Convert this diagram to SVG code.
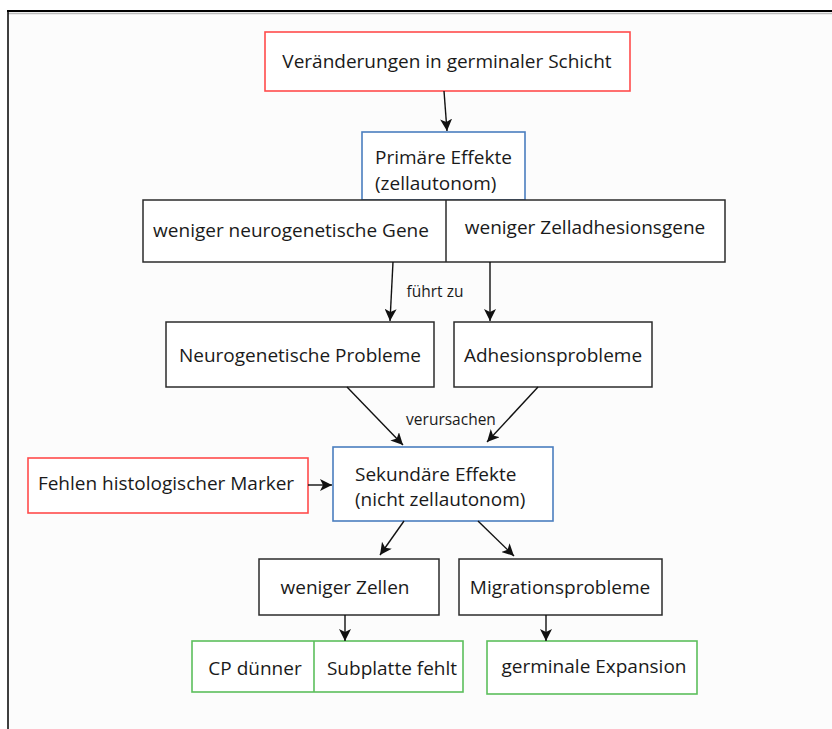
<svg xmlns="http://www.w3.org/2000/svg" width="832" height="729" viewBox="0 0 832 729">
  <style>
    .box { fill: #ffffff; stroke: #2b2b2b; stroke-width: 1.5; }
    .red { fill: #ffffff; stroke: #ff4b4b; stroke-width: 1.6; }
    .blue { fill: #ffffff; stroke: #4a7ebf; stroke-width: 1.6; }
    .green { fill: #ffffff; stroke: #5cbf5c; stroke-width: 1.6; }
    .lbl { font-family: "Open Sans", "Noto Sans", sans-serif; font-size: 19px; fill: #1a1a1a; }
    .mid { text-anchor: middle; }
    .small { font-family: "Open Sans", "Noto Sans", sans-serif; font-size: 15.5px; fill: #1a1a1a; text-anchor: middle; }
    .conn { stroke: #111; stroke-width: 1.4; fill: none; marker-end: url(#arrow); }
  </style>
  <defs>
    <marker id="arrow" viewBox="0 0 12 12" refX="12" refY="6" markerWidth="12" markerHeight="12" markerUnits="userSpaceOnUse" orient="auto">
      <path d="M0,0 L12,6 L0,12 L3,6 Z" fill="#111"/>
    </marker>
  </defs>

  <!-- page frame -->
  <rect x="0" y="0" width="832" height="729" fill="#ffffff"/>
  <rect x="8" y="11" width="824" height="718" fill="#fcfcfc"/>
  <line x1="8" y1="13.5" x2="832" y2="13.5" stroke="#bbbbbb" stroke-width="1.5"/>
  <line x1="7" y1="11" x2="832" y2="11" stroke="#000" stroke-width="2"/>
  <line x1="8" y1="11" x2="8" y2="729" stroke="#000" stroke-width="1.5"/>

  <g id="veraenderungen">
    <rect class="red" x="265" y="32" width="365" height="59"/>
    <text class="lbl mid" x="447" y="68">Veränderungen in germinaler Schicht</text>
  </g>

  <g id="primaere-effekte">
    <rect class="blue" x="362" y="132" width="163" height="68"/>
    <text class="lbl" x="375" y="164">Primäre Effekte</text>
    <text class="lbl" x="375" y="190">(zellautonom)</text>
  </g>

  <g id="gene">
    <rect class="box" x="143" y="200" width="582" height="62"/>
    <line x1="446" y1="200" x2="446" y2="262" stroke="#2b2b2b" stroke-width="1.5"/>
    <text class="lbl mid" x="291" y="237">weniger neurogenetische Gene</text>
    <text class="lbl mid" x="585" y="234">weniger Zelladhesionsgene</text>
  </g>

  <g id="neurogenetische-probleme">
    <rect class="box" x="166" y="322" width="268" height="65"/>
    <text class="lbl mid" x="300" y="362">Neurogenetische Probleme</text>
  </g>

  <g id="adhesionsprobleme">
    <rect class="box" x="454" y="322" width="198" height="65"/>
    <text class="lbl mid" x="553" y="362">Adhesionsprobleme</text>
  </g>

  <g id="fehlen-marker">
    <rect class="red" x="28" y="458" width="280" height="55"/>
    <text class="lbl mid" x="166" y="490">Fehlen histologischer Marker</text>
  </g>

  <g id="sekundaere-effekte">
    <rect class="blue" x="333" y="447" width="220" height="74"/>
    <text class="lbl" x="355" y="481">Sekundäre Effekte</text>
    <text class="lbl" x="355" y="506">(nicht zellautonom)</text>
  </g>

  <g id="weniger-zellen">
    <rect class="box" x="259" y="559" width="180" height="56"/>
    <text class="lbl mid" x="345" y="594">weniger Zellen</text>
  </g>

  <g id="migrationsprobleme">
    <rect class="box" x="459" y="559" width="203" height="56"/>
    <text class="lbl mid" x="560" y="594">Migrationsprobleme</text>
  </g>

  <g id="cp-subplatte">
    <rect class="green" x="192" y="641" width="271" height="51"/>
    <line x1="314" y1="641" x2="314" y2="692" stroke="#5cbf5c" stroke-width="1.6"/>
    <text class="lbl mid" x="255" y="675">CP dünner</text>
    <text class="lbl mid" x="392" y="675">Subplatte fehlt</text>
  </g>

  <g id="germinale-expansion">
    <rect class="green" x="487" y="641" width="210" height="53"/>
    <text class="lbl mid" x="594" y="673">germinale Expansion</text>
  </g>

  <g id="connectors">
    <line class="conn" x1="444" y1="91" x2="447" y2="131"/>
    <line class="conn" x1="393" y1="262" x2="390" y2="321"/>
    <line class="conn" x1="490" y1="262" x2="490" y2="321"/>
    <line class="conn" x1="347" y1="387" x2="403" y2="445"/>
    <line class="conn" x1="538" y1="387" x2="487" y2="442"/>
    <line class="conn" x1="308" y1="485" x2="332" y2="485"/>
    <line class="conn" x1="404" y1="521" x2="380" y2="555"/>
    <line class="conn" x1="478" y1="521" x2="514" y2="556"/>
    <line class="conn" x1="345" y1="615" x2="345" y2="641"/>
    <line class="conn" x1="546" y1="615" x2="546" y2="641"/>
    <text class="small" x="435" y="297">führt zu</text>
    <text class="small" x="451" y="425">verursachen</text>
  </g>
</svg>
